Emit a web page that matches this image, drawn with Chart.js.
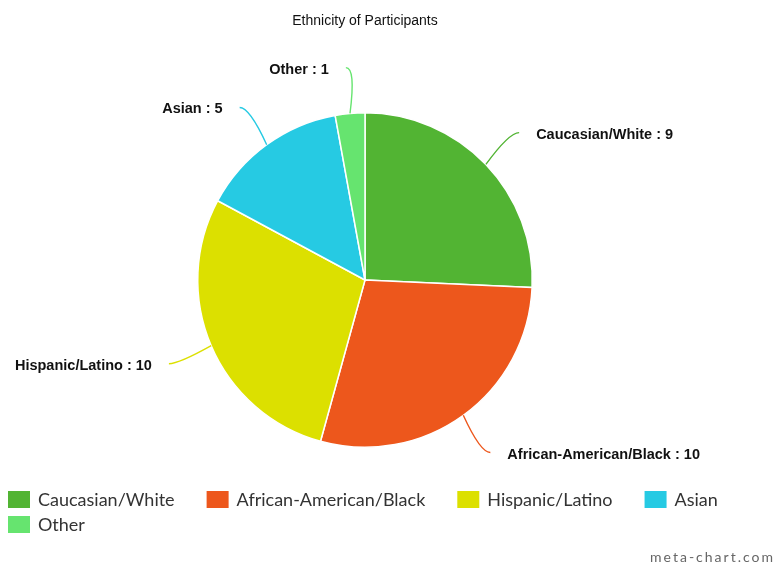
<!DOCTYPE html>
<html>
<head>
<meta charset="utf-8">
<script src="https://cdn.jsdelivr.net/npm/chart.js@4/dist/chart.umd.min.js"></script>
<style>
  html, body { margin: 0; padding: 0; background: #fff; }
  #wrap { width: 777px; height: 566px; position: relative; }
</style>
</head>
<body>
<div id="wrap"><canvas id="pie-chart" width="777" height="566"></canvas></div>
<script>
const categories = ['Caucasian/White', 'African-American/Black', 'Hispanic/Latino', 'Asian', 'Other'];
const counts = [9, 10, 10, 5, 1];
const colors = ['#52b433', '#ed571c', '#dce000', '#26cae3', '#66e46f'];
const chartTitle = 'Ethnicity of Participants';
const watermark = 'meta-chart.com';

// leader lines + outside labels
const calloutLabels = {
    id: 'calloutLabels',
    afterDatasetsDraw(chart) {
        const ctx = chart.ctx;
        const meta = chart.getDatasetMeta(0);
        ctx.save();
        ctx.font = 'bold 14.5px "Liberation Sans", Arial, sans-serif';
        ctx.textBaseline = 'middle';
        meta.data.forEach((arc, i) => {
            const {x, y, startAngle, endAngle, outerRadius} = arc.getProps(['x', 'y', 'startAngle', 'endAngle', 'outerRadius'], true);
            const mid = (startAngle + endAngle) / 2;
            const cos = Math.cos(mid), sin = Math.sin(mid);
            const sx = x + cos * outerRadius, sy = y + sin * outerRadius;
            const ex = x + cos * (outerRadius + 46), ey = y + sin * (outerRadius + 46);
            const dir = cos >= 0 ? 1 : -1;
            ctx.strokeStyle = colors[i];
            ctx.lineWidth = 1.4;
            ctx.beginPath();
            ctx.moveTo(sx, sy);
            ctx.quadraticCurveTo(ex - dir * 10, ey, ex, ey);
            ctx.stroke();
            ctx.fillStyle = '#111';
            ctx.textAlign = dir > 0 ? 'left' : 'right';
            ctx.fillText(categories[i] + ' : ' + counts[i], ex + dir * 17, ey + 2);
        });
        ctx.restore();
    }
};

// title, legend and watermark
const extras = {
    id: 'extras',
    afterDraw(chart) {
        const ctx = chart.ctx;
        ctx.save();
        ctx.fillStyle = '#111';
        ctx.font = '14px "Liberation Sans", Arial, sans-serif';
        ctx.textAlign = 'center';
        ctx.textBaseline = 'middle';
        ctx.fillText(chartTitle, 365, 21);

        ctx.font = '18px Lato, sans-serif';
        ctx.textAlign = 'left';
        let lx = 8, ly = 491;
        categories.forEach((c, i) => {
            const w = 22 + 8 + ctx.measureText(c).width;
            if (lx + w > 760) { lx = 8; ly += 25; }
            ctx.fillStyle = colors[i];
            ctx.fillRect(lx, ly, 22, 17);
            ctx.fillStyle = '#333';
            ctx.fillText(c, lx + 30, ly + 9);
            lx += w + 32;
        });

        ctx.font = '14px Lato, sans-serif';
        ctx.letterSpacing = '2px';
        ctx.fillStyle = '#666';
        ctx.textAlign = 'right';
        ctx.fillText(watermark, 775, 557);
        ctx.restore();
    }
};

new Chart(document.querySelector('#pie-chart').getContext('2d'), {
    type: 'pie',
    data: {
        labels: categories,
        datasets: [{
            data: counts,
            backgroundColor: colors,
            borderColor: '#fff',
            borderWidth: 1.5
        }]
    },
    options: {
        responsive: false,
        animation: false,
        layout: { padding: { left: 197, right: 244, top: 112, bottom: 118 } },
        plugins: {
            legend: { display: false },
            title: { display: false },
            tooltip: { enabled: false }
        }
    },
    plugins: [calloutLabels, extras]
});
</script>
</body>
</html>
